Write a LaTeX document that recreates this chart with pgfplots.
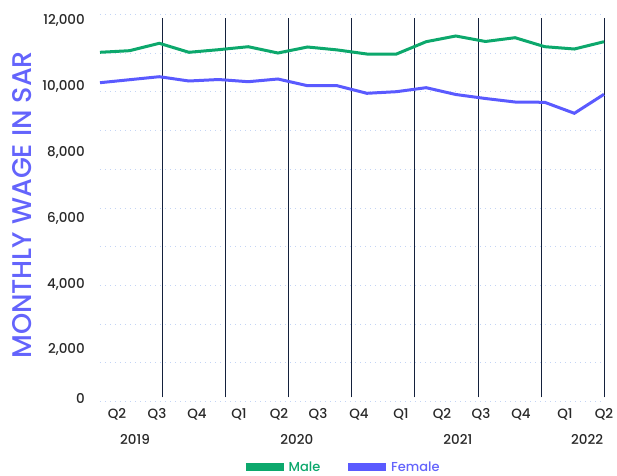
\documentclass[border=0pt]{standalone}
\usepackage{pgfplots}
\pgfplotsset{compat=1.18}
\usepackage{fontspec}
\setmainfont{Poppins}[UprightFont={* Medium}]
\definecolor{male}{RGB}{12,168,108}
\definecolor{female}{RGB}{90,90,255}
\definecolor{flab}{RGB}{100,100,252}
\definecolor{gridc}{RGB}{195,212,245}
\definecolor{vline}{RGB}{20,33,61}
\definecolor{tickc}{RGB}{40,40,40}
\begin{document}
\begin{tikzpicture}
\path[use as bounding box] (-100pt,-73.3pt) rectangle (517pt,401.7pt);
\begin{axis}[
  scale only axis, width=504pt, height=387.4pt,
  xmin=0, xmax=17, ymin=0, ymax=12000,
  clip=false, scaled y ticks=false,
  axis line style={draw=none},
  major tick length=0pt, minor tick length=0pt,
  xtick={0.573,1.923,3.272,4.689,6.038,7.353,8.736,10.153,11.536,12.852,14.201,15.685,17},
  xticklabels={Q2,Q3,Q4,Q1,Q2,Q3,Q4,Q1,Q2,Q3,Q4,Q1,Q2},
  ytick={37,1586,3606,5650,7694,9726,11771},
  yticklabels={0,{2,000},{4,000},{6,000},{8,000},{10,000},{12,000}},
  minor ytick={0,1200,...,12000},
  yminorgrids=true, ymajorgrids=false, xmajorgrids=false,
  minor grid style={gridc, line width=1pt, dash pattern=on 1.2pt off 3.8pt},
  ticklabel style={font=\fontsize{13.5}{15}\selectfont, color=tickc},
  xticklabel style={anchor=mid, inner sep=0pt, yshift=-14pt},
  yticklabel style={anchor=mid east, inner sep=0pt, xshift=-15pt},
  every axis y label/.style={at={(rel axis cs:-0.1554,0.508)}, rotate=90, anchor=center,
     font=\fontsize{27}{30}\selectfont, color=flab},
  ylabel={MONTHLY WAGE IN SAR},
  legend columns=2,
  legend style={draw=none, fill=none, inner sep=0pt, outer sep=0pt,
     at={(axis cs:0,0)}, anchor=west, xshift=142pt, yshift=-65.5pt,
     font=\fontsize{13}{15}\selectfont,
     nodes={inner sep=0pt},
     /tikz/every odd column/.append style={column sep=1pt},
     /tikz/every even column/.append style={column sep=24pt}},
  legend image code/.code={\draw[#1, line width=7.7pt] (0pt,0pt) -- (38pt,0pt);},
]
\pgfplotsinvokeforeach{2.101,4.240,6.351,8.490,10.615,12.760,14.885,17}{
  \draw[vline, line width=1pt] (axis cs:#1,136) -- (axis cs:#1,11876);
}
\addplot[male, line width=3pt, no marks] coordinates {
(0,10823) (1,10873) (2,11102) (3,10823) (4,10904) (5,10996) (6,10801) (7,10987) (8,10897)
(9,10770) (10,10770) (11,11151) (12,11328) (13,11158) (14,11275) (15,10997) (16,10925) (17,11151)
};
\addlegendentry{\textcolor{male}{Male}}
\addplot[female, line width=3pt, no marks] coordinates {
(0,9881) (1,9974) (2,10067) (3,9934) (4,9980) (5,9912) (6,9996) (7,9788) (8,9788)
(9,9553) (10,9603) (11,9727) (12,9516) (13,9392) (14,9283) (15,9274) (16,8934) (17,9522)
};
\addlegendentry{\textcolor{flab}{Female}}
\node[anchor=mid, font=\fontsize{13.5}{15}\selectfont, color=tickc, yshift=-40pt] at (axis cs:1.18,0) {2019};
\node[anchor=mid, font=\fontsize{13.5}{15}\selectfont, color=tickc, yshift=-40pt] at (axis cs:6.64,0) {2020};
\node[anchor=mid, font=\fontsize{13.5}{15}\selectfont, color=tickc, yshift=-40pt] at (axis cs:12.07,0) {2021};
\node[anchor=mid, font=\fontsize{13.5}{15}\selectfont, color=tickc, yshift=-40pt] at (axis cs:16.43,0) {2022};
\end{axis}
\end{tikzpicture}
\end{document}
